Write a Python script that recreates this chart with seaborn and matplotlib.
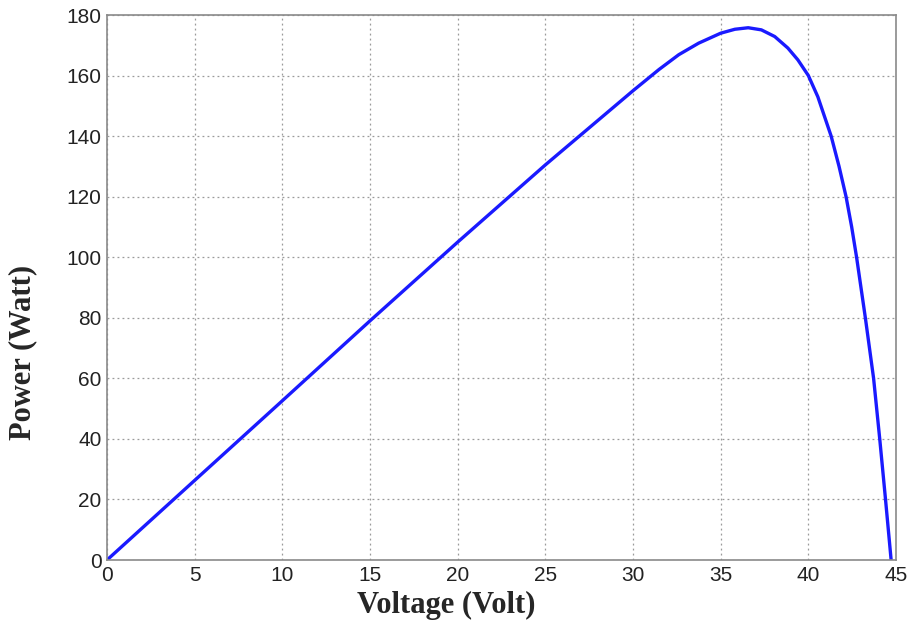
import matplotlib.pyplot as plt
import seaborn as sns
import numpy as np
import pandas as pd

# P-V curve values
voltage = [0, 5, 10, 15, 20, 25, 30, 31.48, 32.61, 33.74, 35, 35.81, 36.57, 37.32,
           38.08, 38.83, 39.4, 40, 40.54, 41.3, 41.75, 42.15, 42.47, 42.75, 43.25,
           43.72, 44.07, 44.4, 44.72]
power = [0, 26.3, 52.6, 79, 105, 130.5, 155, 162, 166.9, 170.7, 174, 175.3, 175.8,
         175.1, 172.9, 169.1, 165.2, 160, 153, 140, 130, 120, 110, 100, 80, 60,
         40, 20, 0]

x_ticks = np.arange(0, 46, 5)
y_ticks = np.arange(0, 181, 20)

df = pd.DataFrame({"Voltage": voltage, "Power": power})

sns.set_style("white")
plt.rcParams['font.family'] = ['Liberation Sans', 'DejaVu Sans']

fig = plt.figure(figsize=(9.12, 6.26), dpi=100)
ax = fig.add_axes([0.1173, 0.1054, 0.8652, 0.8706])

sns.lineplot(data=df, x="Voltage", y="Power", ax=ax, color="#1a1aff", linewidth=2.4,
             sort=False, estimator=None)

ax.set_xlim(0, 45)
ax.set_ylim(0, 180)
ax.set_xticks(x_ticks)
ax.set_yticks(y_ticks)
ax.grid(True, linestyle=(0, (1.5, 2.5)), color="#9a9a9a", linewidth=0.9)
ax.tick_params(direction="in", length=5, color="#888888", labelsize=15,
               labelcolor="#222222", pad=4)
for s in ax.spines.values():
    s.set_color("#8a8a8a")
    s.set_linewidth(1.2)

ax.set_xlabel("Voltage (Volt)", family=["Liberation Serif"], fontweight="bold",
              fontsize=22)
ax.set_ylabel("Power (Watt)", family=["Liberation Serif"], fontweight="bold",
              fontsize=22)
ax.xaxis.set_label_coords(0.43, -0.057)
ax.yaxis.set_label_coords(-0.088, 0.38)

fig.savefig("out.png", dpi=100)
